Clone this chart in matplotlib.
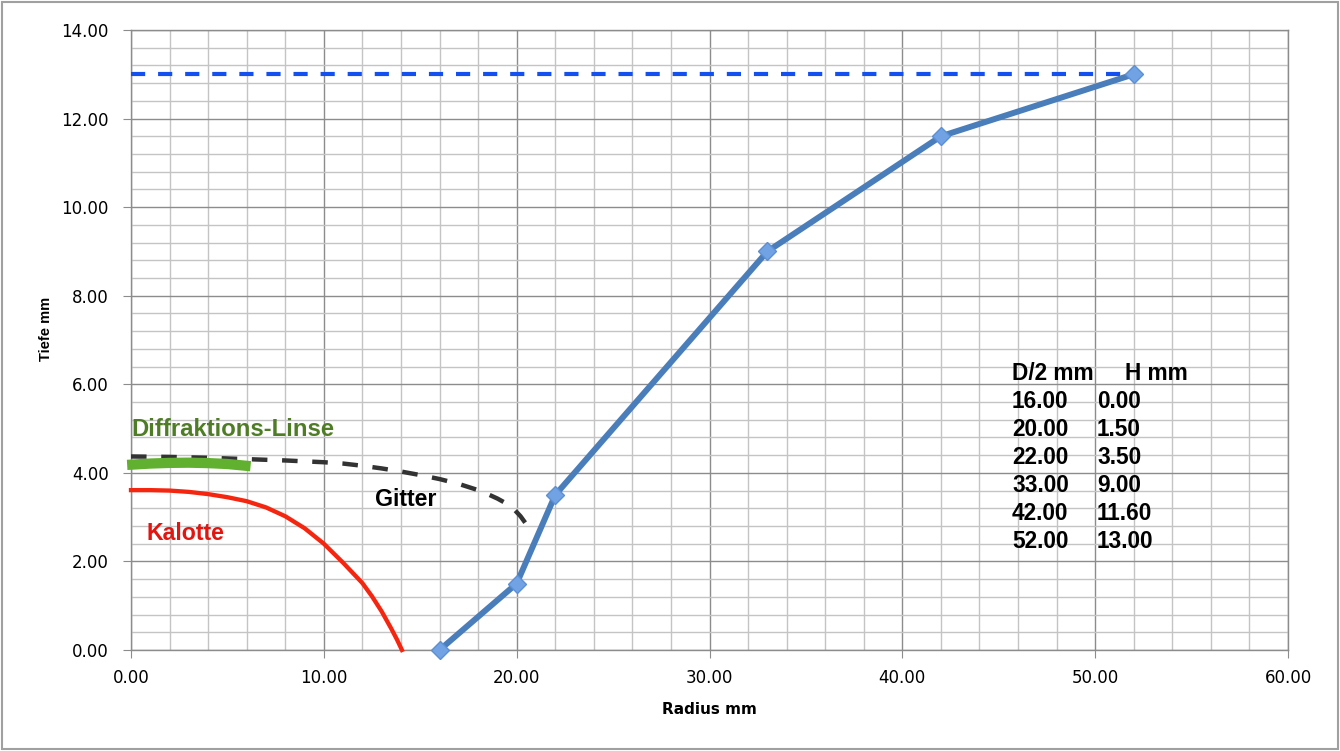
import matplotlib
matplotlib.use("Agg")
import matplotlib.pyplot as plt
from matplotlib.ticker import MultipleLocator, FormatStrFormatter
from matplotlib.patches import Rectangle

# ---- data ----
radius = [16.0, 20.0, 22.0, 33.0, 42.0, 52.0]
depth = [0.0, 1.5, 3.5, 9.0, 11.6, 13.0]

ref_x = [0.0, 52.0]
ref_y = [13.0, 13.0]

kalotte_x = [0.0, 1.0, 2.0, 3.0, 4.0, 5.0, 6.0, 7.0, 8.0, 9.0, 10.0, 11.0, 12.0,
             12.5, 13.0, 13.5, 13.8, 14.05]
kalotte_y = [3.61, 3.61, 3.60, 3.57, 3.52, 3.45, 3.36, 3.22, 3.02, 2.75, 2.40, 1.97, 1.51,
             1.21, 0.87, 0.48, 0.23, 0.0]

gitter_x = [0.0, 2.0, 4.0, 6.0, 8.0, 10.0, 11.0, 12.0, 13.0, 14.0, 15.0, 16.0, 17.0,
            17.5, 18.0, 18.5, 19.0, 19.5, 19.9, 20.2, 20.5, 20.75]
gitter_y = [4.37, 4.36, 4.34, 4.31, 4.28, 4.24, 4.21, 4.16, 4.10, 4.03, 3.95, 3.86, 3.75,
            3.68, 3.61, 3.52, 3.42, 3.30, 3.16, 3.02, 2.84, 2.62]

linse_x = [-0.2, 1.0, 2.0, 3.0, 4.0, 5.0, 6.2]
linse_y = [4.18, 4.21, 4.225, 4.23, 4.22, 4.20, 4.15]

table_header = ["D/2 mm", "H mm"]

# ---- figure ----
fig = plt.figure(figsize=(13.4, 7.51), dpi=100)
ax = fig.add_axes([131/1340, 1-650/751, (1288-131)/1340, (650-30)/751])

ax.set_xlim(0, 60)
ax.set_ylim(0, 14)
ax.xaxis.set_major_locator(MultipleLocator(10))
ax.xaxis.set_minor_locator(MultipleLocator(2))
ax.yaxis.set_major_locator(MultipleLocator(2))
ax.yaxis.set_minor_locator(MultipleLocator(0.4))
ax.xaxis.set_major_formatter(FormatStrFormatter("%.2f"))
ax.yaxis.set_major_formatter(FormatStrFormatter("%.2f"))

ax.grid(which="major", color="#8c8c8c", lw=1.0)
ax.grid(which="minor", color="#c4c4c4", lw=1.0)
ax.set_axisbelow(True)
for s in ax.spines.values():
    s.set_color("#8c8c8c")
    s.set_linewidth(1.0)

ax.tick_params(which="major", length=6, color="#8c8c8c", labelsize=12)
ax.tick_params(axis="y", which="major", pad=10)
ax.tick_params(axis="x", which="major", pad=8)
ax.tick_params(which="minor", length=0)

# reference dashed line
ax.plot(ref_x, ref_y, color="#1450f0", lw=3.0, dashes=(3.4, 3.1), solid_capstyle="butt", zorder=3)

# Kalotte
ax.plot(kalotte_x, kalotte_y, color="#f5260f", lw=3.1, zorder=3, clip_on=False,
        solid_joinstyle="round")

# Gitter
ax.plot(gitter_x, gitter_y, color="#333333", lw=3.2, dashes=(3.5, 3.3), zorder=3)

# Diffraktions-Linse
ax.plot(linse_x, linse_y, color="#62b02f", lw=7.4, solid_capstyle="butt", zorder=3, clip_on=False)

# main series
ax.plot(radius, depth, color="#4a7ebb", lw=4.3, zorder=4, clip_on=False,
        marker="D", markersize=9.0, markerfacecolor="#71a2e3", markeredgecolor="#5b8fd6",
        markeredgewidth=1.0)

# annotations
ax.text(0.0, 4.83, "Diffraktions-Linse", color="#4e7d26", fontsize=17.2, fontweight="bold",
        family="Liberation Sans", ha="left", va="baseline")
ax.text(12.65, 3.25, "Gitter", color="black", fontsize=16.7, fontweight="bold",
        family="Liberation Sans", ha="left", va="baseline")
ax.text(0.81, 2.48, "Kalotte", color="#e3150e", fontsize=16.7, fontweight="bold",
        family="Liberation Sans", ha="left", va="baseline")

# table
col1_x = 45.69
col2_x = 50.1
hdr_y = 6.096
row_dy = 28 / 44.29
ax.text(col1_x, hdr_y, table_header[0], fontsize=16.3, fontweight="bold",
        family="Liberation Sans", ha="left", va="baseline")
ax.text(51.55, hdr_y, table_header[1], fontsize=16.3, fontweight="bold",
        family="Liberation Sans", ha="left", va="baseline")
for i, (r, d) in enumerate(zip(radius, depth)):
    yy = hdr_y - (i + 1) * row_dy
    ax.text(col1_x, yy, f"{r:.2f}", fontsize=16.3, fontweight="bold",
            family="Liberation Sans", ha="left", va="baseline")
    ax.text(col2_x, yy, f"{d:.2f}", fontsize=16.3, fontweight="bold",
            family="Liberation Sans", ha="left", va="baseline")

# axis labels
ax.set_xlabel("Radius mm", fontsize=11, fontweight="bold", va="center")
ax.xaxis.set_label_coords(0.5, -0.0952)
ax.set_ylabel("Tiefe mm", fontsize=10.5, fontweight="bold", va="center", ha="center",
              family="Liberation Sans")
ax.yaxis.set_label_coords(-0.0735, 0.5185)

# outer border
fig.patches.append(Rectangle((2/1340, 2/751), 1336/1340, 747/751, transform=fig.transFigure,
                             fill=False, edgecolor="#a0a0a0", lw=1.5))

fig.savefig("out.png", dpi=100)
